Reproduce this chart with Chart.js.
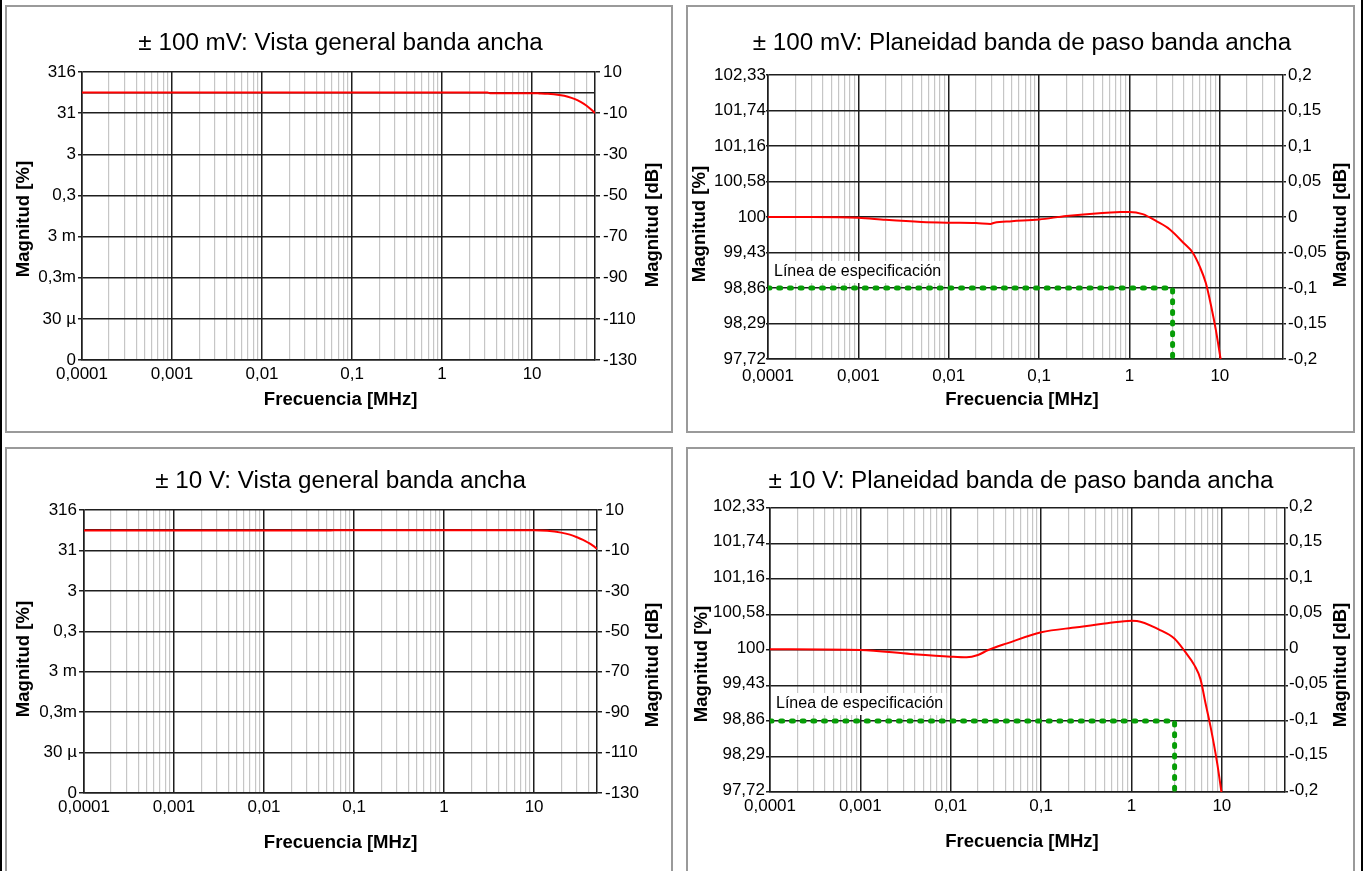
<!DOCTYPE html>
<html lang="es">
<head>
  <meta charset="UTF-8">
  <title>Respuesta en frecuencia - banda ancha</title>
  <script src="https://cdn.jsdelivr.net/npm/chart.js"></script>
  <style>
    html, body { margin: 0; padding: 0; background: #fff; }
    body { width: 1363px; height: 871px; position: relative; overflow: hidden; }
    .edge { position: absolute; top: 0; width: 2px; height: 871px; background: #000; }
    .panel { position: absolute; border: 2px solid #9a9a9a; background: #fff; }
    .panel canvas { position: absolute; left: 0; top: 0; }
  </style>
</head>
<body>
  <div class="edge" style="left:0"></div>
  <div class="edge" style="left:1361px"></div>

  <div class="panel" style="left:5px;top:5px;width:664px;height:424px"><canvas id="c1" width="664" height="424"></canvas></div>
  <div class="panel" style="left:686px;top:5px;width:665px;height:424px"><canvas id="c2" width="665" height="424"></canvas></div>
  <div class="panel" style="left:5px;top:447px;width:664px;height:436px"><canvas id="c3" width="664" height="436"></canvas></div>
  <div class="panel" style="left:686px;top:447px;width:665px;height:436px"><canvas id="c4" width="665" height="436"></canvas></div>

  <script>
    // Datos: frecuencia en MHz, magnitud en dB
    const freq100mVOverview = [0.0001, 0.001, 0.01, 0.1, 1, 3.2, 3.4, 10, 12, 15, 20, 25, 30, 35, 40, 45, 50];
    const db100mVOverview   = [0, 0, 0, 0, 0, 0, -0.3, -0.3, -0.4, -0.6, -1.2, -2.0, -3.2, -4.7, -6.3, -8.1, -10];

    const freq10VOverview = [0.0001, 0.01, 0.05, 0.06, 0.1, 1, 10, 14, 20, 25, 30, 35, 40, 45, 50];
    const db10VOverview   = [-0.2, -0.2, -0.2, 0, 0, 0, 0, -0.3, -1.2, -2.2, -3.5, -4.8, -6.2, -7.6, -9.2];

    const freq100mVFlat = [0.0001, 0.0003, 0.001, 0.002, 0.005, 0.01, 0.02, 0.029, 0.032, 0.05, 0.1, 0.2, 0.5, 0.8, 1, 1.4, 2, 2.8, 4, 5, 6, 7, 8, 9, 10.2];
    const db100mVFlat   = [0, 0, -0.001, -0.004, -0.007, -0.008, -0.0085, -0.0097, -0.008, -0.006, -0.0035, 0.0015, 0.0058, 0.007, 0.0072, 0.004, -0.006, -0.0175, -0.037, -0.05, -0.07, -0.093, -0.125, -0.158, -0.2];

    const freq10VFlat = [0.0001, 0.001, 0.0036, 0.01, 0.015, 0.02, 0.026, 0.042, 0.1, 0.25, 0.54, 1, 1.15, 2, 3, 3.9, 5, 5.8, 6.6, 7.5, 8.9, 9.9];
    const db10VFlat   = [0.001, 0, -0.0056, -0.0094, -0.0103, -0.007, 0, 0.0094, 0.025, 0.032, 0.0376, 0.0413, 0.041, 0.029, 0.016, -0.002, -0.022, -0.041, -0.075, -0.108, -0.16, -0.2];

    // Linea de especificacion (paneles de planeidad)
    const specFreq = [0.0001, 3, 3];
    const specDb   = [-0.1, -0.1, -0.2];

    // Ejes
    const freqMin = 0.0001, freqMax = 50;
    const decades = [0.0001, 0.001, 0.01, 0.1, 1, 10];
    const decadeLabels = ['0,0001', '0,001', '0,01', '0,1', '1', '10'];
    const minorSteps = [1, 2, 3, 4, 5, 6, 7, 8, 9];

    const overviewDbTicks  = [10, -10, -30, -50, -70, -90, -110, -130];
    const overviewPctLabels = ['316', '31', '3', '0,3', '3 m', '0,3m', '30 µ', '0'];
    const overviewDbLabels  = ['10', '-10', '-30', '-50', '-70', '-90', '-110', '-130'];
    const overviewRefDb = [0];

    const flatDbTicks  = [0.2, 0.15, 0.1, 0.05, 0, -0.05, -0.1, -0.15, -0.2];
    const flatPctLabels = ['102,33', '101,74', '101,16', '100,58', '100', '99,43', '98,86', '98,29', '97,72'];
    const flatDbLabels  = ['0,2', '0,15', '0,1', '0,05', '0', '-0,05', '-0,1', '-0,15', '-0,2'];

    const FONT = '"Liberation Sans", Arial, Helvetica, sans-serif';
    Chart.defaults.font.family = FONT;
    Chart.defaults.color = '#000';

    const xTickValues = [];
    decades.forEach(d => minorSteps.forEach(m => {
      const v = parseFloat((d * m).toPrecision(6));
      if (v <= freqMax) xTickValues.push(v);
    }));

    const same = (a, b) => Math.abs(a - b) < 1e-9 * Math.max(1, Math.abs(b));
    const isDecade = v => decades.some(d => same(v, d));
    const labelFor = (v, values, labels) => {
      const i = values.findIndex(t => same(v, t));
      return i >= 0 ? labels[i] : '';
    };

    // texto con un ligero ensanchamiento horizontal, como en el original
    function wideText(ctx, txt, x, y, sx, rot) {
      ctx.save();
      ctx.translate(x, y);
      if (rot) ctx.rotate(rot);
      ctx.scale(sx, 1);
      ctx.fillText(txt, 0, 0);
      ctx.restore();
    }

    const panelText = {
      id: 'panelText',
      beforeDatasetsDraw(chart, args, o) {
        if (!o.spec) return;
        const ctx = chart.ctx;
        ctx.save();
        ctx.font = '16px ' + FONT;
        const w = ctx.measureText(o.spec).width;
        ctx.fillStyle = '#fff';
        ctx.fillRect(o.specX - 3, o.specY - 11, w + 6, 22);
        ctx.fillStyle = '#000';
        ctx.textAlign = 'left';
        ctx.textBaseline = 'middle';
        ctx.fillText(o.spec, o.specX, o.specY);
        ctx.restore();
      },
      afterDraw(chart, args, o) {
        const ctx = chart.ctx;
        ctx.save();
        ctx.fillStyle = '#000';
        ctx.textAlign = 'center';
        ctx.textBaseline = 'alphabetic';
        ctx.font = '23px ' + FONT;
        wideText(ctx, o.title, o.titleX, o.titleY, 1.055, 0);
        ctx.font = 'bold 18px ' + FONT;
        wideText(ctx, 'Frecuencia [MHz]', o.xTitleX, o.xTitleY, 1.03, 0);
        ctx.textBaseline = 'middle';
        wideText(ctx, 'Magnitud [%]', o.lTitle[0], o.lTitle[1], 1.03, -Math.PI / 2);
        wideText(ctx, 'Magnitud [dB]', o.rTitle[0], o.rTitle[1], 1.03, -Math.PI / 2);
        ctx.restore();
      }
    };

    function makeChart(id, p) {
      const g = p.geo;
      const datasets = [{
        data: p.freq.map((f, i) => ({ x: f, y: p.db[i] })),
        borderColor: '#ff0000',
        borderWidth: 2,
        pointRadius: 0,
        cubicInterpolationMode: 'monotone',
        yAxisID: 'y'
      }];
      if (p.spec) {
        datasets.push({
          data: specFreq.map((f, i) => ({ x: f, y: specDb[i] })),
          borderColor: '#079d07',
          borderWidth: 5,
          borderDash: [2, 8.7],
          borderCapStyle: 'round',
          pointRadius: 0,
          tension: 0,
          yAxisID: 'y'
        });
      }
      const gridVals = p.dbTicks.concat(p.refDb || []);
      const tickCol = c => (c.tick && p.dbTicks.some(t => same(c.tick.value, t))) ? '#1e1e1e' : 'rgba(0,0,0,0)';

      return new Chart(document.getElementById(id), {
        type: 'line',
        data: { datasets },
        plugins: [panelText],
        options: {
          responsive: false,
          animation: false,
          devicePixelRatio: 1,
          layout: { padding: { top: g.T, left: 0, right: 0, bottom: 0 } },
          plugins: {
            legend: { display: false },
            tooltip: { enabled: false },
            panelText: p.text
          },
          scales: {
            x: {
              type: 'logarithmic',
              position: 'bottom',
              min: freqMin,
              max: freqMax,
              afterBuildTicks: s => { s.ticks = xTickValues.map(v => ({ value: v })); },
              afterFit: s => { s.height = g.H - g.B; },
              grid: {
                color: c => (c.tick && isDecade(c.tick.value)) ? '#1e1e1e' : '#c6c6c6',
                lineWidth: c => (c.tick && isDecade(c.tick.value)) ? 1.5 : 1.2,
                drawTicks: false,
                z: -1
              },
              border: { display: true, color: '#1e1e1e', width: 1.5 },
              ticks: {
                autoSkip: false, maxRotation: 0, minRotation: 0,
                padding: g.xPad,
                font: { size: 17 },
                callback: v => labelFor(v, decades, decadeLabels)
              }
            },
            y: {
              type: 'linear',
              position: 'left',
              min: p.dbTicks[p.dbTicks.length - 1],
              max: p.dbTicks[0],
              afterBuildTicks: s => { s.ticks = gridVals.map(v => ({ value: v })); },
              afterFit: s => { s.width = g.L; },
              grid: { color: '#1e1e1e', lineWidth: 1.5, drawTicks: true, tickLength: g.lTick, tickColor: tickCol, z: 0 },
              border: { display: true, color: '#1e1e1e', width: 1.5 },
              ticks: {
                autoSkip: false, padding: g.lPad, labelOffset: g.off || 0,
                font: { size: 17 },
                callback: v => labelFor(v, p.dbTicks, p.pctLabels)
              }
            },
            y2: {
              type: 'linear',
              position: 'right',
              min: p.dbTicks[p.dbTicks.length - 1],
              max: p.dbTicks[0],
              afterBuildTicks: s => { s.ticks = p.dbTicks.map(v => ({ value: v })); },
              afterFit: s => { s.width = g.W - g.R; },
              grid: { drawOnChartArea: false, drawTicks: true, tickLength: g.rTick, tickColor: '#1e1e1e', lineWidth: 1.5 },
              border: { display: true, color: '#1e1e1e', width: 1.5 },
              ticks: {
                autoSkip: false, padding: g.rPad, labelOffset: g.off || 0,
                font: { size: 17 },
                callback: v => labelFor(v, p.dbTicks, p.dbLabels)
              }
            }
          }
        }
      });
    }

    makeChart('c1', {
      freq: freq100mVOverview, db: db100mVOverview,
      dbTicks: overviewDbTicks, pctLabels: overviewPctLabels, dbLabels: overviewDbLabels, refDb: overviewRefDb,
      geo: { W: 664, H: 424, L: 75, R: 588, T: 65, B: 353, lTick: 4, lPad: 2, rTick: 5, rPad: 3, xPad: 4 },
      text: {
        title: '± 100 mV: Vista general banda ancha', titleX: 333.6, titleY: 43,
        xTitleX: 333.6, xTitleY: 398, lTitle: [17, 212], rTitle: [646, 218]
      }
    });

    makeChart('c2', {
      freq: freq100mVFlat, db: db100mVFlat, spec: true,
      dbTicks: flatDbTicks, pctLabels: flatPctLabels, dbLabels: flatDbLabels,
      geo: { W: 665, H: 424, L: 80, R: 595, T: 68, B: 352, lTick: 2, lPad: 0, rTick: 3, rPad: 2, xPad: 7 },
      text: {
        title: '± 100 mV: Planeidad banda de paso banda ancha', titleX: 334, titleY: 43,
        xTitleX: 334, xTitleY: 398, lTitle: [12.5, 217], rTitle: [653, 218],
        spec: 'Línea de especificación', specX: 86, specY: 265
      }
    });

    makeChart('c3', {
      freq: freq10VOverview, db: db10VOverview,
      dbTicks: overviewDbTicks, pctLabels: overviewPctLabels, dbLabels: overviewDbLabels, refDb: overviewRefDb,
      geo: { W: 664, H: 436, L: 77, R: 590, T: 61, B: 344, lTick: 5, lPad: 2, rTick: 5, rPad: 3, xPad: 4 },
      text: {
        title: '± 10 V: Vista general banda ancha', titleX: 333.6, titleY: 39,
        xTitleX: 333.6, xTitleY: 399, lTitle: [17, 210], rTitle: [646, 216]
      }
    });

    makeChart('c4', {
      freq: freq10VFlat, db: db10VFlat, spec: true,
      dbTicks: flatDbTicks, pctLabels: flatPctLabels, dbLabels: flatDbLabels,
      geo: { W: 665, H: 436, L: 82, R: 597, T: 59, B: 343, lTick: 4, lPad: 1, rTick: 3, rPad: 1, xPad: 4, off: -2 },
      text: {
        title: '± 10 V: Planeidad banda de paso banda ancha', titleX: 333, titleY: 39,
        xTitleX: 334, xTitleY: 398, lTitle: [14, 215], rTitle: [653, 216],
        spec: 'Línea de especificación', specX: 88, specY: 255
      }
    });
  </script>
</body>
</html>
